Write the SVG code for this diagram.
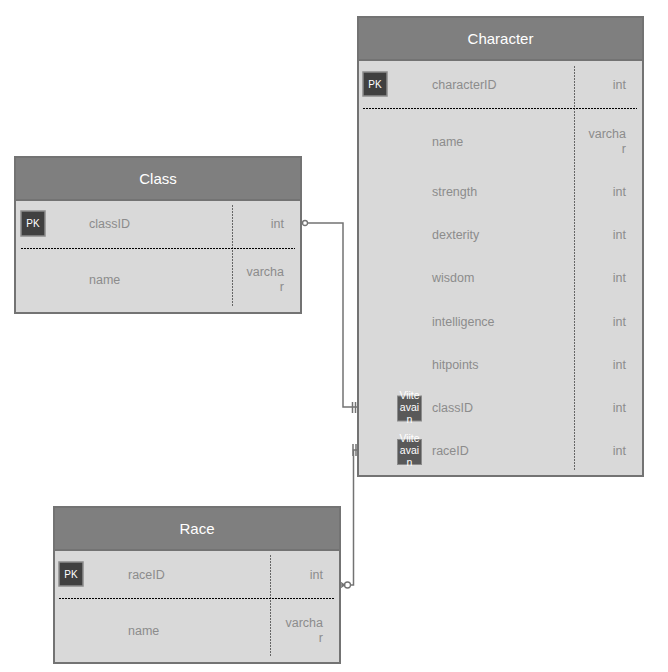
<svg xmlns="http://www.w3.org/2000/svg" width="668" height="672" viewBox="0 0 668 672">
<style>
.hdr{fill:#7f7f7f;stroke:#737373;stroke-width:2}
.body{fill:#d9d9d9;stroke:#737373;stroke-width:2}
.ht{font-family:"Liberation Sans",Arial,sans-serif;font-size:15px;fill:#ffffff;text-anchor:middle}
.t{font-family:"Liberation Sans",Arial,sans-serif;font-size:12.5px;fill:#8c8c8c}
.r{text-anchor:end}
.dash{stroke:#000;stroke-width:1;stroke-dasharray:2,1;fill:none}
.vdash{stroke:#666;stroke-width:1;stroke-dasharray:2,1;fill:none}
.pk{fill:#404040;stroke:#8c8c8c;stroke-width:1.5}
.pkt{font-family:"Liberation Sans",Arial,sans-serif;font-size:10px;fill:#fff;text-anchor:middle}
.fk{fill:#595959;stroke:#8c8c8c;stroke-width:1}
.fkt{font-family:"Liberation Sans",Arial,sans-serif;font-size:10.5px;fill:#fff;text-anchor:middle}
.ln{stroke:#737373;stroke-width:1.5;fill:none}
</style>
<g id="connectors">
  <polyline class="ln" points="302,223 343,223 343,407 358,407"/>
  <circle cx="305" cy="223" r="2.5" fill="#fff" stroke="#737373" stroke-width="1.3"/>
  <path class="ln" d="M296,220 L302,223 L296,226 M296,223 L302,223" stroke-width="1.2"/>
  <path class="ln" d="M352.5,402 V413 M355.5,402 V413"/>
  <polyline class="ln" points="351,585 353.5,585 353.5,450 358,450"/>
  <circle cx="347.5" cy="585" r="3" fill="#fff" stroke="#737373" stroke-width="1.3"/>
  <path class="ln" d="M340,582 L344.5,585 L340,588 M340,585 L344.5,585" stroke-width="1.2"/>
  <path class="ln" d="M353,444 V456 M356,444 V456"/>
</g>
<g id="node-character">
  <rect class="body" x="358" y="60" width="285" height="416"/>
  <rect class="hdr" x="358" y="17" width="285" height="43"/>
  <text class="ht" x="500.5" y="43.5">Character</text>
  <line class="vdash" x1="574.5" y1="66" x2="574.5" y2="470"/>
  <line class="dash" x1="363" y1="108.5" x2="637" y2="108.5"/>
  <rect class="pk" x="363" y="72" width="24" height="24"/>
  <text class="pkt" x="375" y="87.5">PK</text>
  <text class="t" x="432" y="88.5">characterID</text><text class="t r" x="626" y="88.5">int</text>
  <text class="t" x="432" y="145.5">name</text><text class="t r" x="626" y="137.5">varcha</text><text class="t r" x="626" y="152.5">r</text>
  <text class="t" x="432" y="195.5">strength</text><text class="t r" x="626" y="195.5">int</text>
  <text class="t" x="432" y="238.5">dexterity</text><text class="t r" x="626" y="238.5">int</text>
  <text class="t" x="432" y="281.5">wisdom</text><text class="t r" x="626" y="281.5">int</text>
  <text class="t" x="432" y="325.5">intelligence</text><text class="t r" x="626" y="325.5">int</text>
  <text class="t" x="432" y="368.5">hitpoints</text><text class="t r" x="626" y="368.5">int</text>
  <rect class="fk" x="397.5" y="396" width="24" height="25"/>
  <text class="fkt"><tspan x="409.5" y="398.5">Viite</tspan><tspan x="409.5" y="410.5">avai</tspan><tspan x="409.5" y="422.5">n</tspan></text>
  <text class="t" x="432" y="411.5">classID</text><text class="t r" x="626" y="411.5">int</text>
  <rect class="fk" x="397.5" y="439.5" width="24" height="25"/>
  <text class="fkt"><tspan x="409.5" y="441.5">Viite</tspan><tspan x="409.5" y="453.5">avai</tspan><tspan x="409.5" y="465.5">n</tspan></text>
  <text class="t" x="432" y="454.5">raceID</text><text class="t r" x="626" y="454.5">int</text>
</g>
<g id="node-class">
  <rect class="body" x="15" y="200" width="286" height="113"/>
  <rect class="hdr" x="15" y="157" width="286" height="43"/>
  <text class="ht" x="158" y="183.5">Class</text>
  <line class="vdash" x1="232.5" y1="205" x2="232.5" y2="307"/>
  <line class="dash" x1="21" y1="248.5" x2="295" y2="248.5"/>
  <rect class="pk" x="21" y="211" width="24" height="25"/>
  <text class="pkt" x="33" y="227">PK</text>
  <text class="t" x="89" y="227.5">classID</text><text class="t r" x="284" y="227.5">int</text>
  <text class="t" x="89" y="283.5">name</text><text class="t r" x="284" y="275.5">varcha</text><text class="t r" x="284" y="291">r</text>
</g>
<g id="node-race">
  <rect class="body" x="54" y="550" width="286" height="113"/>
  <rect class="hdr" x="54" y="507" width="286" height="43"/>
  <text class="ht" x="197" y="533.5">Race</text>
  <line class="vdash" x1="270.5" y1="555" x2="270.5" y2="657"/>
  <line class="dash" x1="59" y1="598.5" x2="334" y2="598.5"/>
  <rect class="pk" x="59" y="562" width="24" height="24"/>
  <text class="pkt" x="71" y="577.5">PK</text>
  <text class="t" x="128" y="578.5">raceID</text><text class="t r" x="323" y="578.5">int</text>
  <text class="t" x="128" y="634.5">name</text><text class="t r" x="323" y="626.5">varcha</text><text class="t r" x="323" y="642">r</text>
</g>
</svg>
